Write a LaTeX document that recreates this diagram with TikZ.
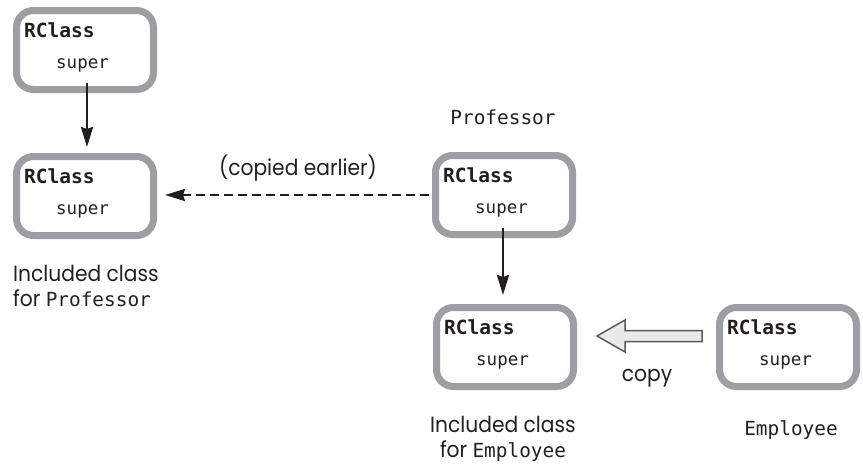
\documentclass[tikz,border=0pt]{standalone}
\usepackage{fontspec}
\setmainfont{Poppins}[FakeStretch=0.92]
\setmonofont{DejaVu Sans Mono}
\usetikzlibrary{arrows.meta,calc}
\definecolor{boxgray}{HTML}{9C9EA1}
\definecolor{arrowfill}{HTML}{E8E9EA}
\definecolor{arrowline}{HTML}{5A5B5D}
\definecolor{ink}{HTML}{231F20}
\newcommand{\mtt}[1]{{\fontsize{19.4}{19.4}\selectfont\ttfamily #1}}
\begin{document}
\begin{tikzpicture}[x=1pt,y=-1pt,
  classbox/.style={draw=boxgray, line width=7pt, rounded corners=17pt, minimum width=137pt, minimum height=79pt, fill=white, inner sep=0pt},
  rcl/.style={anchor=base west, inner sep=0pt, font=\fontsize{19.5}{19.5}\selectfont\ttfamily\bfseries, text=ink},
  sup/.style={anchor=base west, inner sep=0pt, font=\fontsize{17.5}{17.5}\selectfont\ttfamily, text=ink},
  mono/.style={inner sep=0pt, text=ink, font=\fontsize{19.4}{19.4}\selectfont\ttfamily, anchor=base},
  lbl/.style={inner sep=0pt, font=\fontsize{22}{25}\selectfont, text=ink},
  link/.style={line width=2.6pt, draw=ink, -{Stealth[length=20pt,width=12pt,inset=2pt]}},
]
\useasboundingbox (0,0) rectangle (863,466);

% boxes
\node[classbox] (b1) at (85,50) {};
\node[classbox] (b2) at (85,196) {};
\node[classbox] (b3) at (504,195) {};
\node[classbox] (b4) at (505,347) {};
\node[classbox] (b5) at (788,347) {};

\foreach \b in {b1,b2,b3,b4,b5}{
  \node[rcl] (\b r) at ($(\b.north west)+(11,30)$) {RClass};
  \node[sup] (\b s) at ($(\b.north west)+(43,61)$) {super};
}

% connectors
\coordinate (a1s) at ($(b1.south)+(2,-10)$);
\draw[link, shorten >=6pt] (a1s) -- (a1s |- b2.north);
\coordinate (a3s) at ($(b3.south)+(-1,-10)$);
\draw[link, shorten >=9pt] (a3s) -- (a3s |- b4.north);
\draw[link, line width=2.3pt, dash pattern=on 9pt off 5pt, shorten <=3pt, shorten >=8pt] (b3.west) -- (b3.west -| b2.east);

% fat copy arrow
\coordinate (tip) at ($(b4.east)+(20,-11)$);
\draw[draw=arrowline, fill=arrowfill, line width=1.5pt, line join=miter]
  (tip) -- ++(28,-16) -- ++(0,10.5) -- ++(77,0) -- ++(0,11) -- ++(-77,0) -- ++(0,10.5) -- cycle;

% labels
\node[lbl, anchor=base] (lcopy) at (647,381) {copy};
\node[lbl] (lce) at (298,168) {(copied earlier)};
\node[mono] (lprof) at (503,124) {Professor};
\node[mono] (lemp) at (791,435) {Employee};
\node[lbl, anchor=base west] (li1) at (13,281) {Included class};
\node[lbl, anchor=base west] (li2) at (13,306) {for \mtt{Professor}};
\node[lbl, anchor=base] (li3) at (503,432) {Included class};
\node[lbl, anchor=base] (li4) at (503,457) {for \mtt{Employee}};
\end{tikzpicture}
\end{document}
